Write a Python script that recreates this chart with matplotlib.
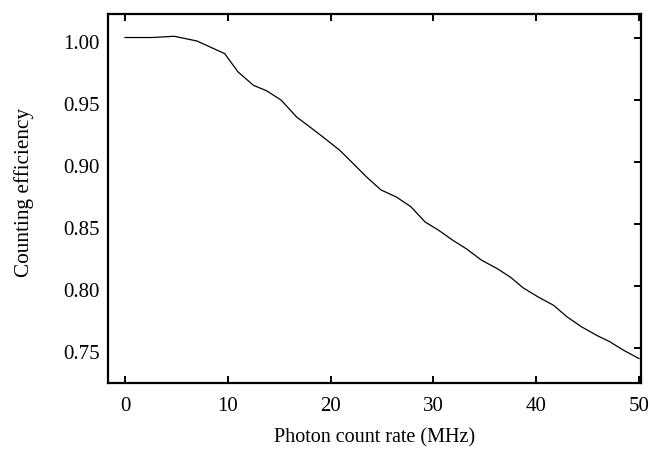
import matplotlib
matplotlib.use("Agg")
import matplotlib.pyplot as plt
from matplotlib.transforms import ScaledTranslation

rate_mhz = [0.0, 2.6, 4.8, 7.0, 9.7, 11.0, 12.5, 13.8, 15.2, 16.7, 18.2, 19.3,
            20.9, 22.2, 23.5, 24.9, 26.4, 27.8, 29.2, 30.5, 31.9, 33.2, 34.7,
            36.2, 37.5, 38.7, 40.2, 41.7, 43.0, 44.4, 45.9, 47.2, 48.5, 50.0]
efficiency = [1.0006, 1.0006, 1.0016, 0.9978, 0.9876, 0.9728, 0.962, 0.9575,
              0.950, 0.9364, 0.927, 0.920, 0.9095, 0.8988, 0.888, 0.8775,
              0.8718, 0.864, 0.8516, 0.845, 0.8368, 0.830, 0.8207, 0.814,
              0.807, 0.7986, 0.791, 0.7843, 0.775, 0.767, 0.760, 0.7547,
              0.748, 0.7413]
x_ticks = [0, 10, 20, 30, 40, 50]
y_ticks = [0.75, 0.80, 0.85, 0.90, 0.95, 1.00]

plt.rcParams['font.family'] = ['Liberation Serif', 'DejaVu Serif']

fig = plt.figure(figsize=(6.5, 4.51), dpi=100)
ax = fig.add_axes([108/650, (451-383.3)/451, (641-108)/650, (383.3-14)/451])
ax.plot(rate_mhz, efficiency, color='black', linewidth=0.9)

ax.set_xlim(-1.65, 50.2)
ax.set_ylim(0.7213, 1.0196)
ax.set_xticks(x_ticks)
ax.set_yticks(y_ticks)
ax.set_xticklabels([str(v) for v in x_ticks])
ax.set_yticklabels([f"{v:.2f}" for v in y_ticks])

for s in ax.spines.values():
    s.set_linewidth(1.6)

ax.tick_params(axis='x', which='both', direction='in', top=True, bottom=True,
               length=5, width=1.4, labelsize=15, pad=10)
ax.tick_params(axis='y', which='both', direction='in', left=False, right=True,
               length=5, width=1.4, labelsize=15, pad=6)

shift = ScaledTranslation(0, -4/100, fig.dpi_scale_trans)
for lab in ax.get_yticklabels():
    lab.set_transform(lab.get_transform() + shift)

ax.set_xlabel('Photon count rate (MHz)', fontsize=14.5, labelpad=9)
ax.set_ylabel('Counting efficiency', fontsize=15.3)
ax.yaxis.set_label_coords(-0.139, 0.518)

fig.savefig('out.png', dpi=100)
